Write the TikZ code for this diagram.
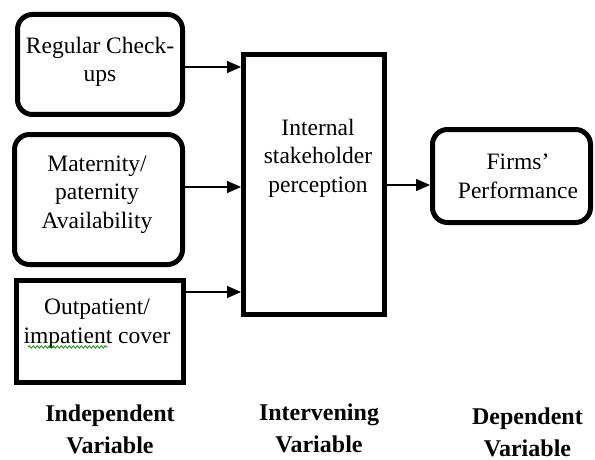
\documentclass[tikz,border=0pt]{standalone}
\usepackage{fontspec}
\setmainfont{Liberation Serif}
\usetikzlibrary{arrows.meta,decorations.pathmorphing}
\begin{document}
\begin{tikzpicture}[x=1pt,y=-1pt,
  rbox/.style={draw,line width=5pt,rounded corners=15pt,inner sep=0pt},
  sbox/.style={draw,line width=5pt,inner sep=0pt},
  txt/.style={align=center,inner sep=0pt,font=\fontsize{23.5}{28.5}\selectfont},
  lab/.style={align=center,inner sep=0pt,font=\fontsize{24}{32}\selectfont\bfseries},
  arr/.style={line width=1.3pt,-{Triangle[length=14pt,width=12pt]}},
  spell/.style={draw=green!60!black,line width=0.8pt,decorate,
    decoration={snake,segment length=4pt,amplitude=1.2pt}}]
\useasboundingbox (0,0) rectangle (595,460);
% boxes
\node[rbox,minimum width=165pt,minimum height=100pt] (b1) at (100,64.5) {};
\node[rbox,minimum width=168pt,minimum height=130pt] (b2) at (98.5,199.5) {};
\node[sbox,minimum width=167pt,minimum height=102pt] (b3) at (100,331.5) {};
\node[sbox,minimum width=141pt,minimum height=260pt] (mid) at (314,184.5) {};
\node[rbox,minimum width=158pt,minimum height=93pt] (firm) at (511.5,176) {};
% texts
\node[txt] (b1t) at (100,62) {Regular Check-\\ups};
\node[txt] (b2t) at (97,194.5) {Maternity/\\paternity\\Availability};
\node[txt] (b3t) at (97,323.5) {Outpatient/\\impatient cover};
\node[txt] (midt) at (318,158) {Internal\\stakeholder\\perception};
\node[txt] (firmt) at (518,176.5) {Firms’\\Performance};
\draw[spell] (28,347) -- (108,347);
% labels
\node[lab] (l1) at (110,429) {Independent\\Variable};
\node[lab] (l2) at (319,428) {Intervening\\Variable};
\node[lab] (l3) at (527.5,432) {Dependent\\Variable};
% arrows
\coordinate (y1) at (0,67);
\coordinate (y2) at (0,187);
\coordinate (y3) at (0,292);
\coordinate (y4) at (0,185);
\draw[arr] (b1.east |- y1) -- (mid.west |- y1);
\draw[arr] (b2.east |- y2) -- (mid.west |- y2);
\draw[arr] (b3.east |- y3) -- (mid.west |- y3);
\draw[arr] (mid.east |- y4) -- (firm.west |- y4);
\end{tikzpicture}
\end{document}
